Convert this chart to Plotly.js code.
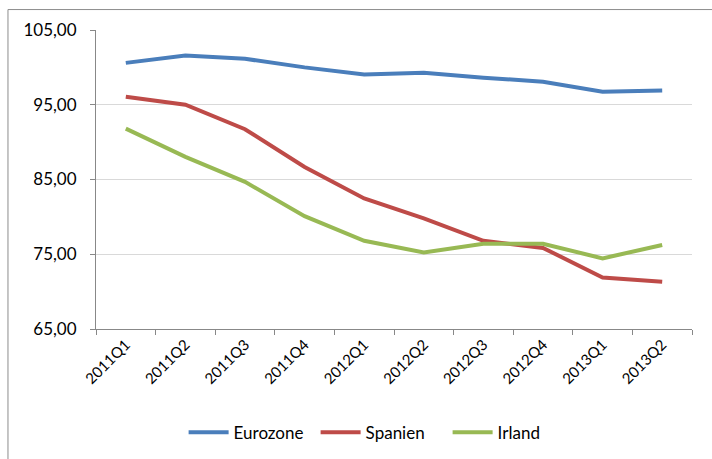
<!DOCTYPE html>
<html>
<head>
<meta charset="utf-8">
<script src="https://cdn.plot.ly/plotly-3.0.1.min.js"></script>
<style>
  html, body { margin: 0; padding: 0; background: #fff; }
  #chart { width: 712px; height: 459px; }
</style>
</head>
<body>
<div id="chart"></div>
<script>
// Quarterly index values
const quarters = ["2011Q1", "2011Q2", "2011Q3", "2011Q4", "2012Q1", "2012Q2", "2012Q3", "2012Q4", "2013Q1", "2013Q2"];
const eurozone = [100.6, 101.6, 101.15, 100.0, 99.06, 99.29, 98.62, 98.08, 96.75, 96.92];
const spanien  = [96.08, 95.0, 91.72, 86.68, 82.46, 79.8, 76.8, 75.85, 71.9, 71.33];
const irland   = [91.8, 88.02, 84.68, 80.1, 76.8, 75.25, 76.4, 76.4, 74.45, 76.23];

const font = "Lato, 'Open Sans', sans-serif";

function series(name, values, color) {
  return {
    type: "scatter",
    mode: "lines",
    name: name,
    x: quarters,
    y: values,
    line: { color: color, width: 4, shape: "linear" },
    hoverinfo: "x+y+name"
  };
}

const data = [
  series("Eurozone", eurozone, "#4a7ebb"),
  series("Spanien", spanien, "#be4b48"),
  series("Irland", irland, "#98b954")
];

const layout = {
  width: 712,
  height: 459,
  margin: { l: 96, r: 20, t: 30, b: 130, autoexpand: false },
  paper_bgcolor: "#ffffff",
  plot_bgcolor: "#ffffff",
  separators: ",.",
  font: { family: font, size: 16, color: "#000000" },
  showlegend: true,
  legend: {
    orientation: "h",
    x: 0.147,
    xanchor: "left",
    y: -0.347,
    yanchor: "middle",
    font: { family: font, size: 17, color: "#000" },
    itemwidth: 40,
    entrywidth: 77,
    entrywidthmode: "pixels",
    tracegroupgap: 0
  },
  xaxis: {
    type: "category",
    range: [-0.5, 9.5],
    automargin: false,
    tickangle: -45,
    ticks: "outside",
    tickson: "boundaries",
    ticklen: 5,
    tickcolor: "#888888",
    showline: true,
    linecolor: "#888888",
    linewidth: 1,
    showgrid: false,
    zeroline: false,
    tickfont: { family: font, size: 15, color: "#000" }
  },
  yaxis: {
    range: [65, 105],
    automargin: false,
    tickvals: [65, 75, 85, 95, 105],
    tickformat: ".2f",
    ticks: "outside",
    ticklen: 5,
    tickcolor: "#888888",
    ticklabelstandoff: 10,
    showline: true,
    linecolor: "#888888",
    linewidth: 1,
    showgrid: true,
    gridcolor: "#d9d9d9",
    gridwidth: 1,
    zeroline: false,
    tickfont: { family: font, size: 17, color: "#000" }
  },
  shapes: [
    {
      type: "rect",
      xref: "paper", yref: "paper",
      x0: -0.1477, x1: 1.2,
      y0: -0.6, y1: 1.0684,
      line: { color: "#8c8c8c", width: 1 },
      fillcolor: "rgba(0,0,0,0)",
      layer: "below"
    }
  ]
};

Plotly.newPlot("chart", data, layout, { displayModeBar: false, staticPlot: true });
</script>
</body>
</html>
